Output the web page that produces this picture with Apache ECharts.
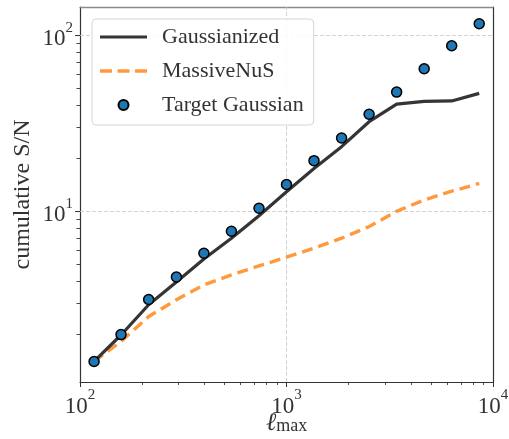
<!DOCTYPE html>
<html>
<head>
<meta charset="utf-8">
<script src="https://cdn.jsdelivr.net/npm/echarts@6/dist/echarts.min.js"></script>
<style>
  html, body { margin: 0; padding: 0; background: #fff; }
  #chart { width: 509px; height: 439px; }
</style>
</head>
<body>
<div id="chart"></div>
<script>
// Cumulative signal-to-noise versus maximum multipole
const ellMax = [117, 158, 215, 293, 398, 541, 736, 1000, 1359, 1848, 2512, 3415, 4642, 6310, 8577];
const gaussianized = [1.40, 1.98, 2.94, 3.96, 5.36, 7.03, 9.44, 12.9, 17.5, 23.3, 32.3, 40.7, 42.2, 42.4, 46.8];
const massiveNuS = [1.40, 1.82, 2.52, 3.14, 3.81, 4.35, 4.89, 5.48, 6.17, 7.03, 8.18, 10.0, 11.6, 13.0, 14.4];
const targetGaussian = [1.40, 1.99, 3.15, 4.23, 5.77, 7.70, 10.4, 14.2, 19.4, 26.1, 35.6, 47.6, 64.6, 87.3, 116.5];

const xMajorTicks = [100, 1000, 10000];
const xMinorTicks = [200, 300, 400, 500, 600, 700, 800, 900, 2000, 3000, 4000, 5000, 6000, 7000, 8000, 9000];
const yMajorTicks = [10, 100];
const yMinorTicks = [2, 3, 4, 5, 6, 7, 8, 9, 20, 30, 40, 50, 60, 70, 80, 90];
const xRange = [100, 10000];
const yRange = [1.07, 145];

const serif = '"Liberation Serif", "DejaVu Serif", serif';
const ink = '#333333';

const pair = (xs, ys) => xs.map((x, i) => [x, ys[i]]);

const powerLabel = {
  formatter: v => '{b|10}{e|' + Math.round(Math.log10(v)) + '}',
  rich: {
    b: { fontFamily: serif, fontSize: 23, color: ink, lineHeight: 30, verticalAlign: 'bottom' },
    e: { fontFamily: serif, fontSize: 15, color: ink, lineHeight: 30, verticalAlign: 'top' }
  }
};

// legend glyphs: a solid stroke and a dashed stroke
const solidIcon = 'path://M0,0H47V3.2H0Z';
const dashedIcon = 'path://M0,0H12V3.4H0Z M17.5,0H29.5V3.4H17.5Z M35,0H47V3.4H35Z';

const chart = echarts.init(document.getElementById('chart'), null, { renderer: 'canvas' });

chart.setOption({
  animation: false,
  backgroundColor: '#ffffff',
  grid: { left: 80, right: 16, top: 7, bottom: 57, containLabel: false, outerBoundsMode: 'none' },
  legend: {
    left: 92, top: 19,
    orient: 'vertical',
    itemWidth: 47, itemHeight: 10, itemGap: 10,
    padding: [6, 10, 8, 8],
    backgroundColor: 'rgba(255,255,255,0.85)',
    borderColor: '#d6d6d6', borderWidth: 1, borderRadius: 4,
    textStyle: { fontFamily: serif, fontSize: 22, color: ink, lineHeight: 24, padding: [0, 0, 0, 10] },
    data: [
      { name: 'Gaussianized', icon: solidIcon },
      { name: 'MassiveNuS', icon: dashedIcon },
      { name: 'Target Gaussian', icon: 'circle' }
    ]
  },
  xAxis: [
    {
      type: 'log', logBase: 10, min: xRange[0], max: xRange[1],
      name: '{l|ℓ}{s|max}', nameLocation: 'middle', nameGap: 29, nameMoveOverlap: false,
      nameTextStyle: {
        rich: {
          l: { fontFamily: serif, fontStyle: 'italic', fontSize: 25, color: ink, lineHeight: 24, verticalAlign: 'middle' },
          s: { fontFamily: serif, fontSize: 18, color: ink, lineHeight: 14, verticalAlign: 'bottom' }
        }
      },
      axisLine: { show: true, lineStyle: { color: ink, width: 1.2 } },
      axisTick: { show: true, length: 5, customValues: xMajorTicks, lineStyle: { color: ink, width: 1 } },
      axisLabel: Object.assign({ margin: 6, customValues: xMajorTicks, showMinLabel: true, showMaxLabel: true }, powerLabel),
      splitLine: { show: false }
    },
    {
      type: 'log', logBase: 10, min: xRange[0], max: xRange[1], position: 'bottom',
      axisLine: { show: false },
      axisTick: { show: true, length: 3, customValues: xMinorTicks, lineStyle: { color: ink, width: 0.9 } },
      axisLabel: { show: false },
      splitLine: { show: false }
    },
    {
      type: 'log', logBase: 10, min: xRange[0], max: xRange[1], position: 'top',
      axisLine: { show: true, lineStyle: { color: '#8a8a8a', width: 1.4 } },
      axisTick: { show: false }, axisLabel: { show: false }, splitLine: { show: false }
    }
  ],
  yAxis: [
    {
      type: 'log', logBase: 10, min: yRange[0], max: yRange[1],
      name: 'cumulative S/N', nameLocation: 'middle', nameGap: 45, nameRotate: 90, nameMoveOverlap: false,
      nameTextStyle: { fontFamily: serif, fontSize: 24, color: ink },
      axisLine: { show: true, lineStyle: { color: ink, width: 1.2 } },
      axisTick: { show: true, length: 5, customValues: yMajorTicks, lineStyle: { color: ink, width: 1 } },
      axisLabel: Object.assign({ margin: 7, customValues: yMajorTicks }, powerLabel),
      splitLine: { show: false }
    },
    {
      type: 'log', logBase: 10, min: yRange[0], max: yRange[1], position: 'left',
      axisLine: { show: false },
      axisTick: { show: true, length: 3.5, customValues: yMinorTicks, lineStyle: { color: ink, width: 0.9 } },
      axisLabel: { show: false },
      splitLine: { show: false }
    },
    {
      type: 'log', logBase: 10, min: yRange[0], max: yRange[1], position: 'right',
      axisLine: { show: true, lineStyle: { color: ink, width: 1.2 } },
      axisTick: { show: false }, axisLabel: { show: false }, splitLine: { show: false }
    }
  ],
  series: [
    {
      name: 'MassiveNuS', type: 'line', symbol: 'none', z: 3,
      data: pair(ellMax, massiveNuS),
      lineStyle: { color: '#ff9a3c', width: 3.4, type: [11, 6] },
      itemStyle: { color: '#ff9a3c' },
      markLine: {
        silent: true, symbol: 'none', z: 1,
        label: { show: false },
        lineStyle: { color: '#c8c8c8', width: 0.8, type: [4, 2] },
        data: [
          ...xMajorTicks.slice(1, 2).map(v => ({ xAxis: v })),
          ...yMajorTicks.map(v => ({ yAxis: v }))
        ]
      }
    },
    {
      name: 'Gaussianized', type: 'line', symbol: 'none', z: 4,
      data: pair(ellMax, gaussianized),
      lineStyle: { color: '#353535', width: 3.2 },
      itemStyle: { color: '#353535' }
    },
    {
      name: 'Target Gaussian', type: 'scatter', symbol: 'circle', symbolSize: 10, z: 5,
      data: pair(ellMax, targetGaussian),
      itemStyle: { color: '#1f77b4', borderColor: '#000000', borderWidth: 1.5, opacity: 1 }
    }
  ]
});
</script>
</body>
</html>
